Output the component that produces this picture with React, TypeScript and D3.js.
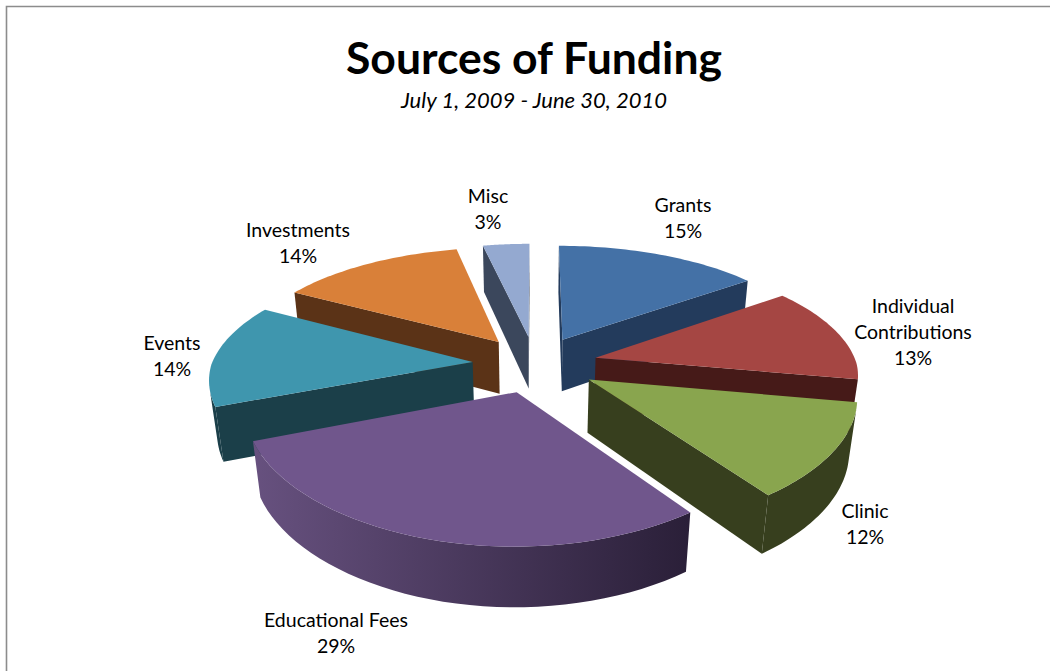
import * as d3 from "d3";

const categories = ["Grants", "Individual Contributions", "Clinic", "Educational Fees", "Events", "Investments", "Misc"];
const values = [15, 13, 12.2, 29.2, 14, 13.6, 3.4];
const topColors = ["#4471a6", "#a54643", "#89a54e", "#70568c", "#3f96ae", "#d98039", "#94a9d0"];
const wallColors = ["#233b5c", "#461a18", "#373f1e", "#2c2038", "#1b3f49", "#5b3317", "#3b475c"];
const arcStartColors = ["#233b5c", "#461a18", "#373f1e", "#67517f", "#1b3f49", "#5b3317", "#3b475c"];
const arcEndColors = ["#233b5c", "#461a18", "#373f1e", "#2a1f38", "#1b3f49", "#5b3317", "#3b475c"];
const labelLines = [["Grants", "15%"], ["Individual", "Contributions", "13%"], ["Clinic", "12%"], ["Educational Fees", "29%"], ["Events", "14%"], ["Investments", "14%"], ["Misc", "3%"]];
const labelAnchors = [[683, 205], [913, 306], [865, 511], [336, 620], [172, 343], [298, 230], [488, 196]];

const WIDTH = 1050;
const HEIGHT = 671;
const CX = 535;
const CY = 364;
const R = 261;
const TILT = 0.45;
const PERSPECTIVE_BACK = 0.153;
const PERSPECTIVE_FRONT = 0.125;
const PERSPECTIVE_Y = 0.17;
const CONVERGE = 0.025;
const DEPTH = 0.207;
const EXPLODE = 0.24;
const FONT = "Lato, 'Open Sans', sans-serif";

type Pt = [number, number];

function project(x: number, y: number, z: number): Pt {
  const wx = 1 - (y > 0 ? PERSPECTIVE_FRONT : PERSPECTIVE_BACK) * y + CONVERGE * z;
  const wy = 1 - PERSPECTIVE_Y * y + CONVERGE * z;
  return [CX + (R * x) / wx, CY + (R * (TILT * y + DEPTH * z)) / wy];
}

const toPath = (pts: Pt[]) => d3.line()(pts) + "Z";

const arcs = d3.pie<number>().sort(null).startAngle(0).endAngle(2 * Math.PI)(values);

const slices = arcs.map((a, i) => {
  const mid = (a.startAngle + a.endAngle) / 2;
  const ox = EXPLODE * Math.sin(mid);
  const oy = -EXPLODE * Math.cos(mid);
  const angles = d3.range(0, 41).map((k) => a.startAngle + ((a.endAngle - a.startAngle) * k) / 40);
  const rim3 = angles.map((t): Pt => [ox + Math.sin(t), oy - Math.cos(t)]);
  const rimTop = rim3.map((p) => project(p[0], p[1], 0));
  const rimBottom = rim3.map((p) => project(p[0], p[1], 1));
  const apexTop = project(ox, oy, 0);
  const apexBottom = project(ox, oy, 1);
  const top: Pt[] = [apexTop, ...rimTop];
  const sign = Math.sign(d3.polygonArea(top));
  const faces = (q: Pt[]) => Math.sign(d3.polygonArea(q)) !== sign;

  const startWall: Pt[] = [apexTop, rimTop[0], rimBottom[0], apexBottom];
  const endWall: Pt[] = [rimTop[40], apexTop, apexBottom, rimBottom[40]];
  const runs = d3.range(0, 40).filter((k) => faces([rimTop[k], rimTop[k + 1], rimBottom[k + 1], rimBottom[k]]));
  let arcWall: Pt[] | null = null;
  if (runs.length > 0) {
    const from = runs[0];
    const to = runs[runs.length - 1] + 1;
    arcWall = [...rimTop.slice(from, to + 1), ...rimBottom.slice(from, to + 1).reverse()];
  }
  return {
    i,
    oy: -Math.cos(mid),
    top,
    walls: [startWall, endWall].filter(faces),
    arcWall,
  };
});

const drawOrder = [...slices].sort((a, b) => a.oy - b.oy);

export default function App() {
  return (
    <svg
      width={WIDTH}
      height={HEIGHT}
      viewBox={`0 0 ${WIDTH} ${HEIGHT}`}
      style={{ position: "absolute", left: 0, top: 0, background: "#fff" }}
    >
      <defs>
        {slices.map((s) => (
          <linearGradient key={s.i} id={`arc-${s.i}`} x1="0" x2="1" y1="0" y2="0">
            <stop offset="0%" stopColor={arcStartColors[s.i]} />
            <stop offset="100%" stopColor={arcEndColors[s.i]} />
          </linearGradient>
        ))}
      </defs>
      <path d={`M6.5,${HEIGHT}V6.5H${WIDTH}`} fill="none" stroke="#8c8c8c" strokeWidth={1.6} />
      <text x={534} y={74} textAnchor="middle" fontFamily={FONT} fontWeight={700} fontSize={44.5} fill="#000">
        Sources of Funding
      </text>
      <text x={534} y={108} textAnchor="middle" fontFamily={FONT} fontStyle="italic" fontSize={22} fill="#000">
        July 1, 2009 - June 30, 2010
      </text>
      {drawOrder.map((s) => (
        <g key={categories[s.i]}>
          {s.arcWall && <path d={toPath(s.arcWall)} fill={`url(#arc-${s.i})`} />}
          {s.walls.map((w, k) => (
            <path key={k} d={toPath(w)} fill={wallColors[s.i]} />
          ))}
          <path d={toPath(s.top)} fill={topColors[s.i]} />
        </g>
      ))}
      {labelLines.map((lines, i) => (
        <text key={categories[i]} textAnchor="middle" fontFamily={FONT} fontSize={19.5} fill="#000">
          {lines.map((line, k) => (
            <tspan key={k} x={labelAnchors[i][0]} y={labelAnchors[i][1] + 7 + k * 26}>
              {line}
            </tspan>
          ))}
        </text>
      ))}
    </svg>
  );
}
